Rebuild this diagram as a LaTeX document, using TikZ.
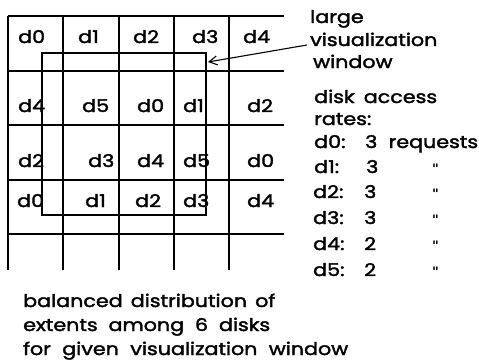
\documentclass[tikz,border=0pt]{standalone}
\usepackage{fontspec}
\setmainfont{Poppins}[FakeBold=2,FakeStretch=1.18,WordSpace=1.9]
\newfontfamily\dvfont{DejaVu Sans}
\newcommand\gap{\hspace{5pt plus 1fill}}
\usetikzlibrary{arrows.meta}
\begin{document}
\begin{tikzpicture}[x=1pt,y=-1pt,
  grid/.style={line width=1.7pt},
  win/.style={draw,line width=1.7pt,inner sep=0pt},
  lab/.style={font=\fontsize{17.5}{17.5}\selectfont,inner sep=0pt,anchor=base west},
  ditto/.style={lab,font=\dvfont\fontsize{13}{13}\selectfont\bfseries},
  ptr/.style={line width=1.1pt,-{Straight Barb[length=8pt,width=9pt,line width=1.1pt]}}]
\useasboundingbox (0,0) rectangle (479,361);
% grid
\foreach \y in {16,71,125,180,234} \draw[grid] (8,\y) -- (284,\y);
\foreach \x in {8,63,119,174,229} \draw[grid] (\x,16) -- (\x,270);
% window
\node[win,minimum width=164pt,minimum height=162pt,anchor=north west] (window) at (41,52) {};
% cells
\node[lab] (r1a) at (18,43) {d0};
\node[lab] (r1b) at (78,43) {d1};
\node[lab] (r1c) at (133,43) {d2};
\node[lab] (r1d) at (192,43) {d3};
\node[lab] (r1e) at (243,43) {d4};
\node[lab] (r2a) at (18,112) {d4};
\node[lab] (r2b) at (82,112) {d5};
\node[lab] (r2c) at (137,112) {d0};
\node[lab] (r2d) at (183,112) {d1};
\node[lab] (r2e) at (247,112) {d2};
\node[lab] (r3a) at (18,167) {d2};
\node[lab] (r3b) at (88,167) {d3};
\node[lab] (r3c) at (137,167) {d4};
\node[lab] (r3d) at (183,167) {d5};
\node[lab] (r3e) at (247,167) {d0};
\node[lab] (r4a) at (17,207) {d0};
\node[lab] (r4b) at (85,207) {d1};
\node[lab] (r4c) at (135,207) {d2};
\node[lab] (r4d) at (183,207) {d3};
\node[lab] (r4e) at (247,207) {d4};
% right texts
\node[lab] (l1) at (310,23) {large};
\node[lab] (l2) at (310,46) {visualization};
\node[lab] (l3) at (313,68) {window};
\node[lab] (k1) at (314,103) {\makebox[123pt][s]{disk\gap access}};
\node[lab] (k2) at (314,125) {rates:};
\node[lab] (a0) at (314,148) {\makebox[164pt][s]{\makebox[51pt][l]{d0:}3\gap requests}};
\node[lab] (a1) at (314,173) {\makebox[52pt][l]{d1:}3};
\node[lab] (a2) at (313,198) {\makebox[51pt][l]{d2:}3};
\node[lab] (a3) at (313,224) {\makebox[51pt][l]{d3:}3};
\node[lab] (a4) at (313,250) {\makebox[51pt][l]{d4:}2};
\node[lab] (a5) at (313,276) {\makebox[51pt][l]{d5:}2};
\foreach \n/\y in {1/173,2/198,3/224,4/250,5/276}
  \node[ditto] (q\n) at (432,\y) {"};
% bottom
\node[lab] (b1) at (23,307) {\makebox[252pt][s]{balanced\gap distribution\gap of}};
\node[lab] (b2) at (23,331) {\makebox[247pt][s]{extents\gap among\gap 6\gap disks}};
\node[lab] (b3) at (23,355) {\makebox[325pt][s]{for\gap given\gap visualization\gap window}};
% arrow
\coordinate (from) at (307,45);
\coordinate (tip) at (208,62);
\draw[ptr] (from) -- (tip);
\end{tikzpicture}
\end{document}
